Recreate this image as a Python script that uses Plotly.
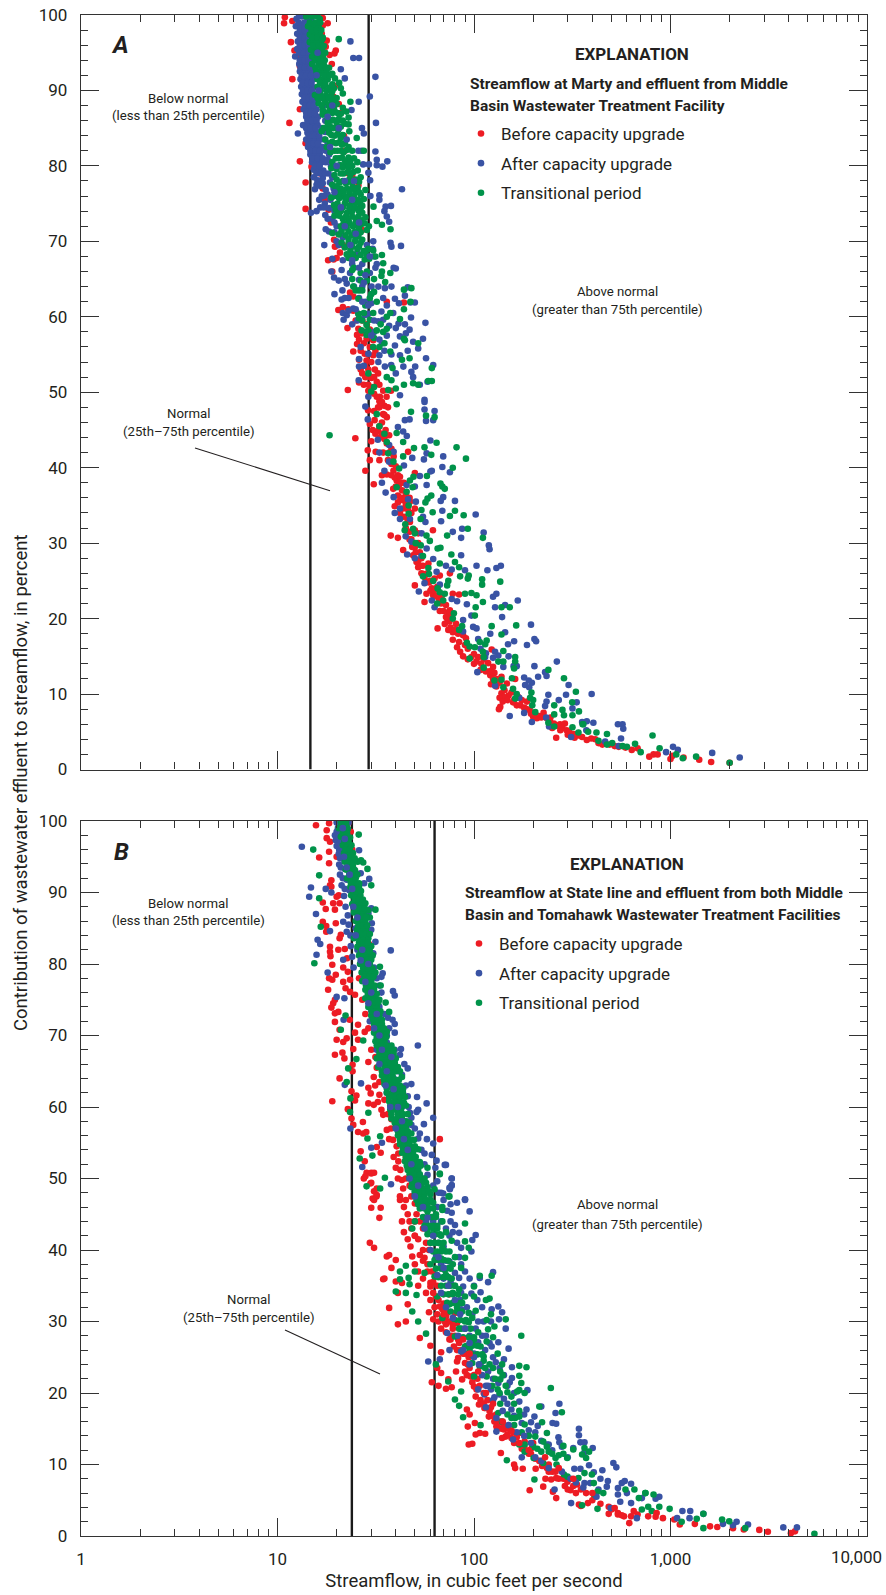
import plotly.graph_objects as go

# ---------- Panel A values (streamflow, percent) ----------
A_q25 = 14.7
A_q75 = 29.1
A_before = [
(10.9,99.7),(10.8,98.9),(11.9,99.2),(11.7,96.4),(12.2,95.3),(11.9,91.5),(11.5,85.7),(13,87.5),(13,80.6),(13.9,77.8),(13.9,74.3),(14.9,79.9),
(18,98.9),(17,98.6),(17.8,96.6),(19.8,95.3),(18.9,93.5),(17,99.6),(16.8,97.5),(17.6,95.8),(18.4,94.7),(19.5,94.9),(12.8,94.5),(13,93.2),(13.6,88.5),(13.9,83),(14.5,84.5),
(19.6,90.6),(19.2,89.2),(20.5,88.2),(21,87),(21.8,84),(22,82),(23,79),(24,78.8),(25.8,77.4),(16.5,79),(17,77),(17.5,75.5),(18.2,74.2),(18.7,72.5),
(19.4,70.2),(19.6,69.3),(18.1,67.5),(19.3,67.6),(19,66),(20,67.8),(20.8,68.5),(21.5,69.5),(25,70.8),(27,71.5),(20.4,60.9),(21.5,61.3),(22.7,58.5),(25.4,57.6),(25.4,56.4),(24.3,55.4),(26,54.3),(22.8,50.3),(26,51.3),
(23.4,63.2),(24.3,62.7),(22.9,61),(24.3,60.8),(25.8,58.4),(26.8,57.8),(28.4,57.1),(30.7,56.9),(29.5,56),(27.8,55.1),(30.7,54.9),(28.4,54.2),(29,53),(31.3,53),(30,51.9),(32,51.4),(30.7,50.7),(33.2,49.4),(35.9,49.4),(32,49.4),(37.8,50.2),(36,62),(26.5,53),(27.5,51),(29,50.2),(44,61.9),(29.5,52.1),(28.5,59),
(28.9,47.6),(31.2,46.3),(29.5,45.8),(36,46.7),(32.5,48),(34.5,47.1),(32.5,44.9),(36,43.2),(38,40.5),(38.9,39.6),(40.4,38.3),(42.8,38),(38.8,37.2),(41,36.3),(43.6,35.7),(47.2,35.5),(39.5,34.9),(43.6,34.6),(50,34.6),(50,39.3),(46.2,42.1),
(24.9,43.9),(28.8,42.3),(28,39.6),(30.9,37.8),(31.6,42.1),(34,39),(36,39.1),(33,48.8),(34,46),(35.5,45),(33,45.5),(37,44.3),(38,42.5),(39,41.5),(39.5,38.7),(41,39),(40,37.5),(43,37),(45,36.5),(41,35.4),(45,35.2),(42,34),(44,33.5),(46,33),
(37.7,31),(41,30.7),(43.6,29.1),(61.8,31.7),(47.2,32.8),(50,31.7),(52,31.3),(49,28.4),(52,27.7),(52,26.8),(54,26),(58.6,27.3),(67,25.7),(75.4,26),(50,24.4),(57.3,23.3),(62,23.1),(56,22.2),(68.4,22.9),(78,23.3),(84,23.2),(48,30.5),(50,29.5),(52,30),(47,31.5),(53,28.8),(55,27),(56,25.5),(59,24.8),(61,24),(63,25.3),(65,24.2),(66,22.7),(72,21.8),
(67,21),(75.4,21.1),(77,20.2),(75,19.6),(81,19.3),(65.3,18.7),(78,18.2),(83,18),(84,16.9),(91,17.4),(90,16.5),(85,15.6),(123,15.9),(97,14.9),(103,14.3),(109,14),(125,13.6),(121,12.5),(122,11.3),(138,12.3),(162,12),(147,11.4),(138,10.1),(136,8.3),(134,8),(150,9.8),(165,8.5),(175,9.2),(186,9),(200,7),(209,6.8),(226,7.5),(244,6.3),(274,6),(290,6.1),(296,5.2),(262,4.2),(340,4.5),(375,3.9),(414,4),
(74,20.8),(73,20),(76,18.8),(80,18.5),(88,17.8),(93,16),(100,15.3),(105,14.9),(112,14.6),(118,14.1),(127,12.8),(131,12),(135,11.5),(143,10.5),(142,9.6),(148,9.2),(155,10.2),(168,9.6),(172,8.5),(180,8.2),(192,7.9),(205,7.3),(215,7.1),(235,6.8),(255,6.1),(265,5.8),(282,5.5),(305,5),(322,4.7),(355,4.3),(395,4.1),(430,3.5),(450,3.3),
(545,3),(635,2.6),(680,2.8),(780,1.7),(820,2),(860,2),(1000,1.4),(1020,1.8),(1165,1.6),(1400,1.3),(1610,1),(2000,0.9),(490,3.3),(520,3.1),(590,2.9),
# second reading of the thick red ridge
(27,59.5),(28,58),(29.5,58.3),(27.5,56.5),(29,55),(31.5,55.5),(28,53.5),(30,54),(32.5,52.5),(31,52),(33,51),(34.5,50.2),(33,48),(35,48.2),(36.5,48),(34,44.5),(35,43.8),(37,42),(36.5,41),(38,39),(40,40.2),(42,38.8),(41.5,37.7),(44,38),(42.5,36),(44.5,35.9),(47,36),(46,34.5),(48,34),(45,32),(47,30.5),(48.5,29.5),(50.5,28.8),(51,27.5),(54,28),(53.5,27),(55.5,25.9),(58,26),(57.5,24.9),(60,25),(60,23.7),(63,23.8),(64,23),(68,22),(70,21),(72,20.2),(71,19.3),(74,18.5),(78,17.2),(82,16.2),(88,15),(93,14.6),(100,14),(108,13.2),(115,13),(120,13),(125,12),(130,11),(135,9.5),(140,9),(158,8.9),(160,9.2),(185,8),(195,7.4),(220,6.9),(245,6.9),(250,5.5),(275,5.2),(300,4.6),(325,4.2),
(25,59.5),(26,57),(26.5,55.5),(27,52.5),(28,52),(29,51),(30,50.5),(31,49.8),(34,48.7),(35,47),(31,47.5),(30.5,45),(33,44),(31.5,44.5),(30,43.5),(29.5,41),(33,41),(34.5,42),
]
A_after = [
(12.5,99.5),(13.3,99.8),(14.1,99.7),(14.9,99.5),(12.4,98.5),(13.1,98.6),(13.8,98.4),(14.5,98.6),(12.6,97.5),(13.3,97.4),(14,97.5),(14.7,97.6),(12.7,96.5),(13.4,96.5),(14.1,96.6),(14.8,96.4),(12.6,95.5),(13.3,95.4),(14,95.5),(14.8,95.5),(12.3,94.5),(13.3,94.5),(14,94.4),(14.8,94.6),(12.9,93.5),(13.5,93.6),(14.2,93.4),(15,93.5),(13,92.5),(13.7,92.4),(14.4,92.6),(15.2,92.5),(13.1,91.5),(13.8,91.6),(14.5,91.4),(15.2,91.5),(13.2,90.5),(13.9,90.5),(14.6,90.6),(15.4,90.4),(13.3,89.5),(14,89.4),(14.7,89.6),(15.5,89.5),(13.4,88.5),(14.1,88.6),(14.9,88.4),(15.6,88.5),(13.6,87.5),(14.3,87.4),(15,87.6),(15.8,87.5),(14,86.5),(14.7,86.6),(15.4,86.4),(16.1,86.5),(13.5,85.4),(14.3,85.5),(15.2,85.6),(16,85.4),(12.7,84.3),(14.2,84.4),(15,84.6),(15.9,84.5),(14,83.5),(14.8,83.4),(15.7,83.5),(16.5,83.5),(14.3,82.5),(15.1,82.6),(16,82.4),(16.9,82.5),(14.7,81.5),(15.5,81.5),(16.4,81.6),(15,80.5),(15.9,80.4),(16.8,80.5),(17.6,80.5),(15.3,79.5),(16.2,79.6),(17.1,79.4),(15.3,78.5),(16,78.1),(17,78.4),(16.6,77.3),(15.5,76.9),(17.6,76.8),(16.8,76),(18,76.2),(17.4,75),(16.5,74.5),(18.3,74.4),(14.8,73.8),(15.8,74),(17.5,73.5),(19,73),
(17.6,71.6),(18.3,71.3),(19.5,71.2),(20,72),(21,71),(23.5,96.5),(24.3,94.3),(26,94.3),(21,92.8),(22,91.6),(31.5,91.8),(29.5,89.2),(25.9,88.5),(23.8,87.4),(31.7,85.7),(26.9,85),(27.5,84.3),(31.5,81.9),(25.8,82),(26.8,82),(32,80.8),(36.2,80.6),(32,80.1),(34.2,79.9),(29.2,80.2),(27.3,80.2),(29,79.1),(29.6,78.1),(43,76.9),(29.7,76),(33,76.1),(33,75.5),(37.8,74.7),(35.5,74.6),(35,74),(36,73.3),(37,72.6),(42.5,69.4),(38,69.3),(37.6,69.8),(30.7,70),(39,66.5),(40,66.4),(17.3,69.5),(19,67.7),(18.8,66),(19.4,65.2),(21.2,66.2),(22.5,64.4),(21.4,63.5),(23.4,65.8),(26,64.9),(29.5,65.8),(30.1,64),(32.6,64),(35.2,63.8),(34.5,62.5),(39.6,62.4),(41.5,61.8),(44.5,62.8),(46,63.9),(50,61.9),(47.5,61.9),(21.2,62.3),(24.3,61.1),(21.5,60.5),(22.5,60.2),(25.8,60.4),(29,60.4),(27.8,60.2),(33.8,60.7),(38.8,60.5),(32.6,59.4),(21.7,59.6),(34.5,59.6),(41.3,59.1),(44.5,59),(47.8,59.9),(56.6,59.2),(42,57.4),(55,57.1),(49,56.7),(52,55.8),(46,55.5),(39.6,56.2),(33,54.9),(42,54.9),(57,54.5),(62,53.6),(50.2,53.4),(43.7,53.4),(35.2,53.4),(37.9,53.6),(32.6,54),(26,53.4),(26,54.4),(29,55.1),(40,52.5),(48,52.7),(49,52),(25.9,51.6),(58,51.4),(53,51),(42,49.6),(56,49),(29,49.4),
(21.5,67.5),(23,68),(24,67),(25.5,68.5),(27,67),(28.5,69.5),(22,65),(24.5,64),(27,64),(23,62.5),(26,62.5),(28,62),(31,68),(32,67),(30,61.8),(36,61.5),(38,64),(30.5,69),(31.5,66.5),
(20,70),(21.5,70.5),(19.5,63),(23,60.8),(20.5,64.8),(22,62.5),(24,59),(25.5,59.5),(28.5,58),(26.5,56),(27.5,53.5),(31,58),(34,56.5),(36,57.5),(37,58.8),(40,58.5),(35,55.5),(38,55),(45,57.8),(47,58.3),
(56,48.7),(56,47.7),(63,47.5),(28,48.1),(57,46.2),(62,46.3),(44.5,46.3),(47,46.4),(28.8,46.4),(41,45.4),(45.5,44.2),(43.6,44.8),(60,43.6),(32.4,43.7),(37,43),(39,42.1),(33,42),(48.5,41.3),(55.6,41.1),(57.4,41.9),(69.7,41.5),(44,40.3),(37,40.8),(35,39.6),(53,38.9),(69,40.1),(61,39.6),(60,39.5),(75.4,39.4),(34,38),(57.4,37.7),(45.4,37.7),(50,37.5),(35.5,36.7),(39,36.1),(46.2,35.8),(50.6,35.5),(69.7,36.1),(67.7,35.6),(80,35.6),(42,34.6),(39.5,34),(42,33.2),(47.2,33.2),(55,33.5),(56.6,32.8),(69,34.3),(102,33.8),(68,32.9),(87,31.9),(78,31.5),(112,31.4),(86,30.7),(54.1,31.3),(44.9,30.9),(48,30.2),(57.4,29.3),(119,29.7),(120,29.2),(45.7,28.5),(50,28),(54,28.3),(86,28.4),(62,27.9),(72,27),(103,27),(130,26.7),(137,27),(117,26.4),(77,26.5),(90,26.4),(64.5,26.2),(56,24.7),(67,24.5),(52.4,23.6),(125,22.9),(130,23.3),(77,22.6),(82,22.3),(61,22.4),(63,21.5),(167,22.4),(92,21.9),(128,21.5),(144,21.8),(97,20.4),(139,20.2),(88,19.8),(195,19.2),(99,18.9),(103,18.7),(85,18.5),(88,18.3),(121,18),(144,18.2),(203,17.3),(207,17),(105,17.3),(160,17),(149,16.6),(186,16.5),(133,15.1),(125,14.8),(114,14.9),(141,13.6),(264,14.3),(203,13.7),(165,13.7),(159,13.7),(230,12.9),(234,12.4),(212,12.3),(180,12.2),(104,12.9),(197,11.5),(191,10.9),(303,11.2),(128,11.1),(397,10),(239,9.9),(294,9.9),(270,9.2),(234,9),(333,8.9),(230,8.4),(317,8.1),(170,9.5),(152,7.1),(180,7.5),(197,6.3),(233,6.9),(241,5.7),(405,6.2),(375,6.4),(355,6.3),(373,5.2),(312,4.3),(540,6),(570,6),(575,5.4),(560,4.1),(465,3.7),(545,3.1),(950,2.3),(1030,3),(1090,2.6),(1630,2.2),(2250,1.6),(150,15),(128,15.6),(115,15.4),(108,16),(190,11.8),(182,11.2),
# second reading of the solid blue column
(12.9,100),(13.7,99),(14.5,99),(12.8,99),(13,98),(13.7,98),(14.4,98),(15,98),(13,97),(13.7,97),(14.4,97),(13,96),(13.7,96),(14.4,96),(15,96),(12.9,95),(13.6,95),(14.4,95),(13,94),(13.7,94),(14.4,94),(15,94),(13.1,93),(13.8,93),(14.6,93),(13.3,92),(14,92),(14.8,92),(13.4,91),(14.2,91),(14.9,91),(13.5,90),(14.2,90),(15,90),(13.7,89),(14.4,89),(15.1,89),(13.8,88),(14.6,88),(15.3,88),(14,87),(14.7,87),(15.5,87),(14.2,86),(15,86),(15.8,86),(14,85),(14.7,85),(15.6,85),(14.4,84),(15.4,84),(16.3,84),(14.4,83),(15.3,83),(16.1,83),(14.7,82),(15.6,82),(16.4,82),(15.1,81),(16,81),(17,81),(15.5,80),(16.4,80),(15.8,79),(16.7,79),(17.5,79),(16,78),(17,77.7),(15.8,77.5),(17.2,76),(16.3,75.5),(19.5,74),(18,73),(19.5,72.5),(20.5,69.5),
(16.6,89),(17.2,88),(17,87),(17.5,86),(16.8,85),(17.5,84.5),(17.3,83.5),(18,83),(17.6,82),(18.3,81.5),(18,80.8),(18.7,80),(18.2,79),(19,78.5),(18.5,77.8),(19.3,77),(18.6,75.5),(19.3,74.5),(17.2,74.5),
]
A_after_top = [
(16,95),(15.8,92),(16.2,90),(19,88),(18,86.5),(20.5,85),(22.5,83.5),(18.5,82.5),(20,80),(22,78),(24.5,78),(19.5,76.5),(21,74.5),(24,75.5),(22,72),(26,72.5),(25,71),(23.5,69.5),(24,67.5),(29.5,68),(26,66.5),(28,65.5),(27.5,64.5),(27,62),(25,61),(29,61.5),(31,59.5),(30,57.5),(33,57),
]
A_transition = [
(14,99.8),(15,99.8),(16,99.8),(16.4,99.5),(14.3,98.5),(15.2,98.6),(16.2,98.4),(14.6,97.4),(15.5,97.5),(16.4,97.6),(17,97),(14.6,96.4),(15.6,96.5),(16.6,96.4),(14.8,95.4),(15.8,95.5),(16.8,95.5),(17.5,95),(15,94.5),(16,94.4),(17,94.5),(15,93.5),(16.2,93.5),(17.2,93.4),(18.3,93),(15.8,92.5),(16.8,92.6),(17.8,92.4),(19,92.2),(16,91.5),(17,91.4),(18,91.5),(19.6,91.6),(20.6,91),(16,90.5),(17.2,90.6),(18.4,90.4),(19.4,90.3),(21,90.3),(21.5,89.6),(15.5,89.4),(16.5,89.5),(17.6,89.3),(18.8,89.5),(20,89),(16.2,88.3),(17.5,88.5),(18.8,88.4),(20,88.2),(21.5,87.7),(23.5,88.5),(17,87.4),(18.4,87.4),(19.5,87.3),(21,86.9),(22.4,87.2),(23,86.4),(18,86.3),(19.2,86.1),(20.5,86.2),(22,85.6),(23,85.5),(17.2,85),(18.5,85.2),(19.8,85.1),(21,85.2),(23.2,84.6),(18.8,84.1),(20.2,84.2),(21.5,84.1),(25.3,83.7),(19,83.2),(20.5,83.1),(22,83),(23,82.5),(19.5,82),(21,82),(22.5,82.1),(24,82),(27.5,82),(19.8,81),(21.3,81.1),(23,81.1),(24.5,81),(20.8,80.1),(22.2,80.2),(24,80),(21,79),(22.8,79.2),(24.3,79.2),(25.6,79.4),(20,78.2),(21.5,78),(23.2,78.2),(25,78.2),(26,77.9),(19.8,77),(21,77),(22.6,77),(24.2,77.1),(25.6,77.1),(28,76.8),(19.5,76),(21.5,76),(23,76),(24.5,76),(26.5,76.2),(27.5,75.6),(20.2,75),(22,75),(23.5,74.8),(25,75.1),(26.3,75),(21,74),(22.6,73.8),(24,74),(26,74),(27,73.8),(19.5,73.4),(21.5,73),(23,72.8),(25,73),(26.5,72.8),(28,73.2),(21,72),(22.5,71.8),(24.2,72),(26,71.8),(29.2,72),(19,71.1),(20.5,70.9),(22.2,70.8),(24,70.8),(25.8,70.7),(28.5,71.5),(23,69.8),(24.8,70),(26.5,69.8),(29,69),(23.5,68.8),(25.5,69),(27.5,68.7),(30.7,68.8),(23,67.8),(25,67.8),(27.8,67.6),(29.3,67.7),(31.5,68),
(20.5,96.8),(30.8,74.6),(32,72.7),(34,72.2),(37.6,71.6),(34,68.2),(34.5,67.1),(37.5,65.8),(34,66),(35.3,64.6),(44,63.6),(48,63.8),(47.5,62),(44,61),(37.5,60.5),(42,59.7),(24.5,66.5),(26.5,65.8),(28.5,66),(24,65),(26.5,64.8),(28.5,64.8),(31,65),(33.8,65.4),(25,63.5),(27,63.5),(30,63),(31,63.3),(25.8,62.4),(24.3,64),(25.8,60.4),(32,62),(30.7,60.5),(29.5,59.6),(28.4,58.9),(26.8,58.2),(28.4,57.6),(32,58.2),(36,58.4),(34.5,58),(30.7,56),(33,56),(37.5,55.4),(44,57.1),(44.5,56.9),(43,54.3),(47,54.5),(38.5,53.2),(61,53.2),(36,52),(38,51.6),(40,50.5),(44,51),(49,51.2),(52,51),(58.5,51.5),(61,51.5),(29,52.5),(36.6,50.3),(31,50.7),(30,50.1),(52,56.5),(36,60),(27.5,60.5),(26,59.8),
(40.4,48.4),(47.8,47.4),(32,47.1),(57,46.9),(63,46.7),(33,45.5),(35,44.5),(40.4,44.6),(43.6,43.4),(36,43.4),(64.5,43.3),(81.5,42.7),(56,42.7),(49.5,42.6),(36.6,41.9),(43.6,41.5),(60.6,41.7),(91,41.2),(38.9,40.8),(41.6,39.9),(78,40),(57.6,38.9),(49.2,38.8),(47.2,38.3),(67.5,37.9),(69,37.5),(71,37.2),(40.4,37.4),(45.4,36.8),(48.7,37.4),(60.6,36.3),(58,35.9),(56.6,35.4),(46.5,35),(54,34.4),(61.6,34.1),(80,34.3),(75.4,33.6),(88.6,33.7),(46.5,33.9),(53.5,33.2),(44.7,32.5),(44.4,31.7),(49,31.9),(50,31.3),(93,31.9),(73,31),(57.3,31),(111,30.7),(50.5,30),(59.6,30.3),(53.6,29.7),(65.3,29.3),(67.5,29.4),(55,28.3),(76.7,28.5),(67,27.3),(80,27.5),(84,26.8),(58.6,26.7),(55,25.6),(59,25.9),(94,25.7),(85,25.6),(93,25.3),(110,25.2),(110,24.5),(136,24.9),(62,25),(74,25),(73,24.4),(65.3,24),(67,23.5),(71,23.3),(90,23.3),(97,23.4),(103,23.1),(111,22.2),(69.7,22.4),(65,22),(152,21.5),(138,21.5),(102,21.5),(101,20.4),(79,20.7),(78,20),(87,19),(84,18.5),(123,19),(164,19.1),(138,17.9),(116,17.1),(107,16.9),(92,16.8),(114,16.6),(95,16.3),(101,16.2),(141,15.7),(111,15.6),(162,14.9),(162,14.3),(112,14.9),(95,14.7),(133,14.3),(141,14.3),(160,13.4),(112,13.5),(239,13.2),(287,12.1),(138,11.9),(127,11.8),(156,12.1),(141,10.9),(158,10.7),(165,10),(162,9.4),(196,10.2),(200,9.2),(193,9.5),(330,10.3),(316,8.9),(256,8.5),(198,8.5),(205,7.6),(342,7.7),(317,7.2),(282,7.9),(287,7.2),(256,7.3),(239,6.2),(256,5.7),(357,6),(317,5.6),(340,4.9),(381,5),
(360,6),(420,4.9),(475,4.7),(430,3.8),(475,3.3),(505,3.5),(570,3.1),(600,3),(660,3.4),(705,2.3),(810,4.5),(880,2.8),(1070,2),(1155,1.5),(1350,1.7),(2000,0.9),(18.4,44.3),
# second reading of the green band
(14.6,99),(15.6,99),(16.5,99),(14.9,98),(15.8,98),(16.7,98),(15,97),(16,97),(16.9,96.8),(15.2,96),(16.2,96),(17.2,95.9),(15.3,95),(16.3,95),(17.4,94),(15.5,94),(16.5,94),(15.6,93),(16.7,93),(17.7,93),(16.2,92),(17.3,92),(18.4,92),(16.5,91),(17.5,91),(19,90.8),(16.6,90),(17.8,90),(19,89.9),(16,89),(17,89),(18.2,89),(19.4,88.8),(16.8,88),(18.2,88),(19.4,87.8),(17.6,87),(19,87),(20.2,87),(18.7,86),(20,85.8),(21.5,86),(18,85),(19.2,85),(20.4,84.8),(19.5,84),(21,83.7),(19.8,83),(21.3,82.8),(20.2,82),(21.7,81.8),(20.5,81),(22,80.7),(23.4,80.4),(21.5,79.8),(23,79.8),(21.7,79),(23.5,78.8),(20.7,77.8),(22.3,77.7),(24,77.7),(20.3,76.7),(21.7,76.5),(23.3,76.6),(25,76.5),(20.6,75.7),(22.2,75.5),(24,75.5),(25.7,75.5),(21.5,74.5),(23.2,74.4),(24.8,74.4),(26.5,74.4),(20.6,73.4),(22.3,73.3),(24,73.3),(25.8,73.3),(21.7,72.4),(23.3,72.4),(25,72.4),(26.8,72.3),(21.2,71.4),(23,71.3),(24.8,71.3),(26.5,71.2),(23,70.3),(25,70.4),(27,70.2),(24,69.3),(26,69.3),(24.2,68.3),(26.5,68.2),(28.5,68.2),
(17,86.8),(18,85.7),(16.8,84.6),(18.3,84.4),(17.5,83.5),(18.5,83),(17.8,82.5),(18.6,81.8),(19,80.5),(18.8,79.7),(20,79.6),(19.5,78.8),(19,77.5),(20,77.3),(20.5,76.3),(18.8,75.8),(19.4,74.8),(19.8,74.2),(20.4,73.8),(22.8,75.6),(25,77),(26.5,78.5),(25.5,80.5),(26,76.5),(27,74.7),(27.8,72.4),(21.2,69.8),(22,69.2),(22.5,68.3),(24,66.2),(26,63.5),(28,61.5),(29.5,62.5),(27,59.5),(29,58.2),(31,57.2),(33.5,59),(35,56.5),
]

# ---------- Panel B values (streamflow, percent) ----------
B_q25 = 23.9
B_q75 = 63
B_before = [
(15.7,99.4),(18.3,99.7),(17.8,98.7),(17.8,97.6),(18.5,97.1),(18.3,95.7),(16.3,94.9),(18.3,94.1),(20,95),(18.8,91.7),(18.5,91),(18.8,90.8),(20,89.4),(20.5,89.6),(19.2,88.5),(20.7,88.5),(17,88.6),(17.6,87.7),(19.6,87.6),(17,85.9),(17.7,85.3),(17.7,84.5),(19.8,85.7),(20.7,83.6),(21,84.1),(18.5,82.4),(18.5,81.7),(18.6,81.1),(20.4,82),(22,82.1),(22.6,80.8),(19,79.9),(21.6,79.5),(22.8,78.9),(19.8,78.5),(18.3,78),(19,77.8),(21.6,77.5),(23.4,77.8),(22.2,76.6),(18.1,76.4),(23.4,76.1),(24.8,75.7),(19.6,75),(19.2,74.5),(18.8,73.9),(20.4,73.3),(19.6,73.1),(19.6,71.9),(23.3,72.2),(25.7,71.5),(20.7,70.8),(27.8,70.5),(24.8,70.4),(20,69.4),(22.5,69.6),(21.6,69.1),(25.7,69.4),(24.3,68.1),(19.6,67.3),(21.4,67.6),(21.9,66.8),(29,66.3),(24.1,65.9),(24.1,65),(20.7,64),(23.8,62.2),(25.2,61.6),(24.8,60.9),(19,60.8),(29,60.5),(30.9,60.3),(22.8,59.7),(23.8,58.4),(24.3,57.5),(27.2,57.9),(25.7,56.5),(27.3,56.3),(28.3,56.5),(67,55.5),(32,54.4),(26.5,53.8),(33.5,53.6),(27.8,52.4),(28.4,50.8),(30,50.7),(27.5,50),(29.7,49.3),(32,48.6),(31.9,47.5),(30.5,47.2),
(23,99.8),(23.6,98.5),(24,96),(24.5,93),(25,90.5),(25.5,86),(26.8,84.5),(29.2,82.8),(30,81),(28,80),(26,78),(27,75),(28,73),(29,71),
(30.9,64.2),(31.4,63),(29.8,61.9),(33,61.7),(32.4,60.7),(33.8,59.6),(34.5,58.9),(36,56.8),(37.8,57),(38.7,55.4),(40.4,54.5),(41.2,53.5),(41.2,52.4),(42.2,51.2),(43,49.8),(43.6,48.6),(42,47.5),(29,62.7),(30,68),(31.5,67),(32,65.5),(33,63.5),(35,61),(36.5,59),(38,58.3),(37,55.5),(39,53),(40,51.5),(41,50),(45,50),(47,49),(45,47),
(28,50.3),(30,50.8),(31,50.8),(30,49.4),(31,48.2),(32,47.7),(31,47),(30,45.9),(33.5,45.9),(33,44.5),(29.5,41),(31,40.3),(37,39.3),(36,39.1),(40,38.6),(38,37.5),(35,36),(34.5,35.9),(40,35.6),(43,35.4),(41,34),(37,31.9),(46,32.4),(41,29.6),(45,30),(59,31.3),(62,30.3),(53,27.7),(60,26.6),(68,25.7),(61,21.5),(66,21),(77,20.8),(72,20.6),(74,21.9),(68,22.8),(81,23),(90,23),(87,21.9),(65,23.5),(82,24.4),(82,26),(75,27.5),(72,29.6),(65,31),(69,31.7),(73,31.2),(80,31.2),(82,29.8),(75,33.8),
(42,47),(44,46),(46,45),(43,44),(47,44),(44,42.5),(48,43),(46,41.5),(50,42),(47.5,40.5),(48.5,39.1),(53,39.3),(56,38.9),(58,38),(60,35.4),(60,34.9),(64,33.5),(67,32.1),(72,30.7),(76,27.5),(79,26.5),(83,24.9),(90,24.2),(96,22.3),(100,20.9),(102,19.5),(114,17.9),(119,16.7),(127,16),(130,15.3),(142,14.9),(145,13.9),(155,13.7),(170,14.4),(181,13.2),(200,13),(197,12.3),(92,17.7),(106,18.4),(113,17.9),(95,17),(101,15.8),(93,15.3),(102,14.2),(107,14.4),(114,14.3),(94,12.8),(98,12.9),(137,11.6),(139,13.7),(160,10),(162,9.5),(177,9.4),(206,9.4),(231,8),(225,6.9),(192,6.4),(262,5.3),(252,6.2),(247,7.9),(240,9),(262,8.1),(299,7.6),(334,7.2),(372,6),(342,4.4),(380,4.6),(485,4.1),(540,3.2),(580,2.75),(630,2.75),(770,2.75),(915,2.5),(1045,2.3),(617,1.8),(540,3),(565,2.9),(485,3.1),(350,4.2),(1115,1.6),(1330,1.7),(1590,1.35),(1730,1.25),(2080,1.1),(2360,0.9),(2830,0.85),(3130,0.6),(4100,0.4),(4300,0.65),
(50,38),(52,37),(55,36),(52,35),(57,34),(60,33),(63,32),(66,30),(68,29),(72,28.5),(77,28),(84,27),(88,25.5),(93,24),(92,22.5),(98,21.5),(103,20.5),(108,19),(112,18.5),(120,17.5),(125,16.8),(132,15.6),(138,15),(148,14.2),(160,13),(175,12.2),(190,11.5),(205,10.8),(222,9.8),(235,9.5),(250,9),(270,8),(290,7),(310,6.4),(330,6),(400,5),(440,4.5),(500,3.7),(680,3),(840,2.7),
# second reading of the thick red ridge
(41,60),(43,55),(45,53),(46,51.5),(48,47.5),(50,46.5),(51,45),(53,44),(50,44),(55,43),(52,41.5),(57,41),(55,40),(59,40),(58,37),(61,37),(62,35.5),(65,35),(66,33),(70,32.5),(71,30),(75,30),(78,29),(80,28),(83,27.5),(86,26),(90,25.5),(94,25),(95,23.5),(100,22.5),(104,22),(107,21),(112,20),(117,19),(122,18),(130,17),(136,16),(142,15.5),(150,15),(158,14.5),(165,13.8),(180,12.5),(195,11.5),(215,10.5),(240,10),(260,9),(285,8),(320,7),(350,6.5),(410,5.5),
]
B_before_top = [
(50,42),(55,38.5),(62,34),(70,31),(78,29.5),(88,27.5),(95,25.5),(105,23),(115,20),(125,18.5),(140,16),(155,14.7),(170,13),(190,12),(230,11),(270,9.5),(320,8),(300,6.5),(400,6),(520,3.9),(650,3.5),(850,3.2),
]
B_after = [
(20,99.8),(21,99.9),(22,99.8),(23,99.8),(20,98.5),(21.2,98.4),(22.4,98.5),(19.8,97.3),(20.8,97),(22,97.2),(20.6,96),(21.5,95.8),(22.8,96),(26,95.9),(13.3,96.4),(20.8,94.8),(21.8,94.6),(23,94.8),(21,93.5),(22,93.3),(23.2,93.5),(24.5,93.2),(26.5,92.7),(21.5,92),(22.5,91.8),(23.6,92),(27.6,91.3),(29.3,91.9),(14.8,90.7),(17.6,90.5),(14.5,89.4),(18.8,90),(22,90.5),(23.2,90.3),(24.5,90.5),(25.5,90),(15.7,87),(16,83.4),(16.5,82.8),(18.5,84.6),(15.8,81.3),(18,78.8),(20,75.4),(21.9,75.2),(21.7,72.2),(21.6,85.9),(22.5,84.5),(21.6,80.6),(22,63.1),(37.7,81.9),(34.3,78.7),(38.7,76.2),(39.5,75.6),(30,87.8),(29,87.1),(30.2,85.7),(30,84.8),(31.5,83.1),(30.7,81.5),(33.8,78.2),(33.8,76),(36.5,72.5),(38.5,72.2),(39.5,71.6),(39.5,70.4),(51.8,68.6),(39.5,68),(42.5,68.1),(42,67.3),(44.2,66),(46,65.4),(43,64.5),(48,63.2),(26.6,63.3),(23.5,57),(51.3,61.4),(57.4,60.5),(52,59.6),(51,59.3),(47.2,59.2),(62,58.5),(55.6,57.6),(48,57.5),(53,56.3),(52,55.6),(57.6,55.5),(62,54.9),(30,54.3),(34,55),(61,53.3),(64.5,52.5),(71,51.9),(63.6,51.5),(77,50),(65,49.6),(77,49),(75.4,48.5),(69.7,47.9),(90,47.1),(37.8,49.2),(27,51.6),(55,50),(50,50.2),
(25,85),(25.5,82),(26.5,80),(27.5,78),(29,75),(31,76),(33,74),(29.5,72),(34,71),(36,70),(32,68),(37,66),(39,64),(36,62),(41,61),(43,60),(45,58),(43,56),(48,54),(46,52),(52,52),(56,52),(50,48),(55,47.5),(60,47),(65,46),(57,44),(62,44),(68,44),(72,43),(60,41),(66,41),(70,40.5),(75,42),(64,39),(68,38),(72,38.5),(70,36),(76,35.5),(80,36.8),
(72,51.9),(77,50),(77,49.1),(75,48.7),(68,48),(90,47),(95,45.4),(82,46.6),(76,46.4),(77,45.2),(84,42.4),(80,43.5),(102,42.1),(98,41.4),(86,40.3),(97,39.8),(75,38.4),(125,36.9),(118,35.5),(107,36.1),(84,36.1),(88,34.9),(97,33.9),(108,34.1),(86,34),(133,32.1),(123,31.7),(139,31.3),(86,31.7),(122,30),(134,30.3),(145,29),(102,29),(73,28.4),(133,27.1),(105,27.1),(150,26.2),(123,26.5),(114,26),(75,26),(86,25.8),(58.5,24.4),(67,24.7),(142,24.7),(129,24.3),(156,23.6),(156,22.1),(152,21.5),(133,21.4),(187,20.4),(113,19.8),(127,19.4),(142,19.2),(272,18.5),(220,18.1),(260,17.2),(185,17.7),(155,17.7),(203,16.7),(251,15.8),(262,15.7),(211,15.4),(130,14.6),(342,15),(342,14.1),(269,13.8),(272,13.1),(158,13.5),(348,13.1),(365,13.1),(402,12.3),(365,11.7),(320,12.3),(280,12.5),(512,10.2),(530,9.6),(385,9.9),(450,9.2),(407,8.9),(348,9.4),(324,9.4),(565,7.4),(585,7.7),(540,6.7),(630,7.3),(474,6.9),(540,5.8),(390,7.4),(365,7.4),(257,6.5),(715,5.3),(630,4.6),(555,4.8),(496,3.9),(312,4.6),(877,5.5),(840,5.2),(674,2.5),(1080,2.5),(1150,3.5),(1260,3.5),(1250,2.5),(1470,3.1),(1850,1.7),(2080,1.5),(2170,2),(2480,1.6),(3750,1.2),(4400,1.2),
(85,33),(92,32),(98,31),(105,30),(110,28),(95,28),(100,25.5),(108,24),(118,23),(125,22),(115,21),(122,20.5),(135,19.8),(148,18.5),(160,16.8),(175,15.8),(190,14.8),(235,12.8),(250,12),(300,11),(440,8),(480,7.7),(600,6),(430,6.5),
# second reading of blue along the green band
(20.3,99),(19.6,98),(20.4,97.8),(20,96.5),(20.5,95.4),(20.6,93.9),(20.8,92.5),(21.2,91),(21.8,89.5),(22.2,88),(22.8,86.8),(23,85.5),(23.5,84),(23.6,82.5),(24,81),(24.4,79.5),(27,83),(28.5,81),(31,79.5),(32,78),(33,77),(30,73.5),(35,73),(37,71),(36,69),(38,67.5),(39.5,66),(41,65),(45,63),(46,61.5),(43.5,62.5),(46.5,60),(48,58.5),(50,57),(54,54),(56,53.5),(58,50.5),(62,49),(66,48),(70,47),(73,45.5),(76,44),(78,42.5),(82,41),(84,39),(86,38),(90,37),(95,36),(100,35),(104,33),(110,32),(112,30),(115,28),(120,27),(125,25),(135,23.5),(142,22.5),(148,21),(160,20),(170,18.8),(180,17),(195,15.9),(205,14.5),(220,13.3),(240,12.8),
]
B_after_top = [
(21.5,99),(22,97.5),(21.8,95),(22.5,93.5),(23.3,92.5),(24,90.5),(24.3,88),(25.5,86.5),(25,84),(27,82),(26.5,80.5),(29,80),(28,77.5),(30,76),(29,74.5),(32,73),(31,71),(33,70),(34,68),(33,66),(36,65),(38,67),(35.5,63),(39,62.5),(37.5,60),(41,60),(43,58),(40,57),(44,55.5),(46,54),(48,52),(47,50),(52,49),(50,47.5),(55,46),(58,44.5),(56,43),(62,42),(60,40),(66,39),(70,37.5),(65,36.5),(74,35),(68,34),(80,33),(72,32),(85,31),(78,30.5),(90,29),(83,28),(95,27),(88,26),(100,25),(95,24),(106,24),(110,22.5),(118,21),(105,20.5),(125,19),(115,18),(140,17.5),(130,16.5),(150,15.5),(165,14.5),(180,14),(195,13),(205,11),(175,11),(220,10.5),(240,9.5),(280,9),(310,8),(330,7.5),(360,6.8),(420,5.5),
]
B_transition = [
(21,99.8),(22.3,99.8),(20.5,99),(21.6,98.8),(22.8,98.9),(21,97.8),(22.2,97.8),(23.4,97.7),(21.5,96.6),(22.6,96.7),(23.8,96.6),(21.8,95.5),(23,95.4),(24.2,95.5),(15.2,96),(22,94.3),(23.3,94.2),(24.5,94.3),(25.6,94.3),(27.3,94.2),(26.6,94.5),(22.3,93.2),(23.6,93.2),(24.8,93.1),(28.7,93.3),(16.3,92.4),(25.9,98.1),(22.6,92),(23.8,92),(25,92),(23.5,90.8),(24.7,90.8),(26,90.8),(30,91),(23.7,89.6),(25,89.6),(26.4,89.6),(24,88.4),(25.4,88.5),(26.7,88.4),(28,88.5),(24.5,87.2),(26,87.3),(27.4,87.2),(29,87.5),(31.5,87.6),(25,86),(26.4,86),(28,86),(29.5,86.5),(25.4,84.8),(26.8,84.8),(28.2,84.8),(24.5,83.6),(26,83.6),(27.5,83.6),(29,83.6),(25.5,82.4),(27,82.4),(28.5,82.4),(30,82.5),(26,81.2),(27.5,81.2),(29,81.2),(30.5,81.2),(26.3,80),(27.8,80),(29.5,80),(33.2,79.6),(26.8,78.8),(28.2,78.8),(30,78.8),(31.5,78.8),(27,77.6),(28.5,77.6),(30,77.6),(33.5,77),(28,76.4),(29.5,76.4),(31,76.4),(28,75.2),(29.5,75.2),(31.5,75.2),(33,75),(35.5,74.6),(29,74),(30.5,74),(32,74),(30,72.8),(31.5,72.8),(33,72.8),(37,73.3),(31,71.6),(32.5,71.6),(34,71.6),(31,70.4),(32.8,70.4),(34.5,70.4),(36,70.5),(31.5,69.2),(33.2,69.2),(35,69.2),(33,68),(35,68),(37,68),(39,68),(32,66.8),(34,66.8),(36,66.8),(38,66.8),(40,66.8),(32.5,65.6),(35,65.6),(37,65.6),(39,65.6),(41,65.6),(34,64.4),(36,64.4),(38.5,64.4),(43,64.2),(35,63.2),(37.5,63.2),(40,63.2),(42,63),(36,62),(38.5,62),(41,62),(43.5,62),(37,60.8),(39.5,60.8),(42,60.8),(44,60.6),(37.5,59.6),(40,59.6),(42.5,59.6),(38,58.4),(40.5,58.4),(43,58.4),(45,58),(40,57.2),(42.5,57.2),(45,57.2),(41,56),(43.5,56),(46,56),(48,56.3),(42,54.8),(44.5,54.8),(47,54.8),(50,54.5),(52,54.1),(43,53.6),(46,53.6),(49,53.6),(44.5,52.4),(47.5,52.4),(50.5,52.4),(53,52.3),(46,51.2),(49,51.2),(52,51.2),(58,51.5),(47,50),(50,50),(53,50),(56,50),(48,48.8),(51,48.8),(54,48.8),(58,48.8),(50,47.6),(53,47.6),(56,47.6),(60,47.8),(52,46.4),(55,46.4),(58,46.4),(62,46.6),
(21,70.8),(22.2,72.8),(27.3,69.3),(25.2,66.7),(22.9,65.4),(22.5,63.5),(23.5,61.2),(23.4,59.3),(29,59.2),(28.7,55.6),(33.3,55.9),(30.4,53.2),(26.2,52.8),(35.2,50.1),(28.4,48.9),(33.3,48.6),(67,50.6),(74.3,47.5),(16.3,89.2),(16.6,85.2),(15.4,80.1),
(67,50.7),(63,48.5),(56,48.5),(53,48.5),(75,47.5),(69,45.6),(69,46),(90,43.7),(69,44),(65,43),(58,42.8),(48.5,43),(50,44),(58,45.4),(90,41.2),(94,40.3),(77,41.3),(63,41),(69,40.3),(75,39.8),(90,38.9),(80,39),(86,37.5),(75,37.5),(71,37.2),(60,38),(45,37.8),(42,37),(50,37),(56,36.8),(63,36.3),(46.5,36.1),(42,35.9),(47,35.2),(107,36.4),(123,36.4),(77,36),(100,34.9),(100,33.5),(40,34.2),(45,34),(51,33.7),(65,33.5),(75,32.4),(86,32.6),(94,31.2),(115,33),(120,33.2),(122,31),(48.5,31.4),(52,30),(102,31.5),(94,29.9),(116,30.2),(145,30.3),(69,30.5),(57,28.3),(127,29.3),(118,28.9),(86,29),(80,27.9),(174,28),(125,27.8),(116,27.2),(90,26.5),(98,26.8),(95,26),(132,25.5),(112,25.1),(98,24.2),(107,23.7),(114,23.5),(139,24),(170,23.8),(185,23.6),(64,24),(136,23),(100,22.3),(170,22.4),(116,22.3),(136,21.9),(174,21.4),(246,20.7),(132,20.5),(148,20.1),(166,20.2),(170,20.4),(181,20),(74,21.6),(86,20.2),(80,19.1),(84,18.2),(136,18.5),(215,18.1),(280,17.3),(88,16.6),(108,15.5),(133,17.2),(139,16),(162,16.5),(170,16.7),(181,15.6),(222,15.9),(235,14.4),(205,13.9),(225,13.2),(285,12.6),(235,12.5),(181,12.8),(170,12.8),(320,12.1),(365,12.3),(385,11.8),(355,11.4),(220,11.8),(240,11.8),(285,11.5),(260,10.9),(181,11.8),(201,10.9),(225,10.2),(298,10.9),(147,10.6),(263,10),(372,10.9),(287,8.6),(299,8.3),(340,8.1),(365,8.8),(398,8.6),(203,7.9),(407,7.4),(425,6.2),(455,6),(590,6.5),(655,6.5),(690,5.3),(745,6),(715,3.7),(770,4.1),(803,3.5),(877,4.1),(425,3.8),(410,5.8),(355,4.3),(820,5.8),(745,6),(990,3.8),(1140,2),(1360,2.4),(1470,1.1),(1470,3.1),(1830,2.3),(1990,2.05),(2400,1.1),(5400,0.3),
(64,45),(68,42),(72,42.5),(62,43),(70,40),(74,38.5),(78,38),(68,38.8),(72,36.5),(80,35),(84,34.5),(78,34),(90,33.5),(82,32),(90,30),(98,30.5),(105,28.5),(100,27.5),(108,26.5),(112,24.5),(120,24),(125,23.5),(128,22),(140,22.5),(124,21),(145,21),(135,20),(155,19.5),(160,18.5),(170,17.5),(148,17),(155,16.5),(160,15.5),(175,14.5),(190,14),(200,12.5),(210,12.2),(250,11.5),(270,11.3),
# second reading of the solid green band
(21.3,99.2),(22.5,99.2),(21.5,98.3),(22.6,98.3),(21.9,97.2),(23,97.1),(22.2,96),(23.3,96),(22.4,94.9),(23.6,94.9),(24.7,94.8),(23,93.8),(24.2,93.7),(23.2,92.6),(24.4,92.6),(25.5,92.5),(23.6,91.4),(24.8,91.4),(26,91.3),(24.2,90.2),(25.4,90.2),(26.6,90.2),(24.7,89),(26,89),(27.2,89),(25,87.8),(26.4,87.8),(27.8,87.8),(25.6,86.6),(27,86.6),(28.4,86.6),(25.8,85.4),(27.2,85.4),(28.6,85.4),(25.2,84.2),(26.6,84.2),(28,84.2),(29.5,84.2),(26,83),(27.4,83),(28.8,83),(26.6,81.8),(28,81.8),(29.5,81.8),(27,80.6),(28.6,80.6),(30,80.6),(27.3,79.4),(28.8,79.4),(30.4,79.4),(27.8,78.2),(29.3,78.2),(30.8,78.2),(28.2,77),(29.7,77),(31.2,77),(28.8,75.8),(30.3,75.8),(32,75.8),(29.4,74.6),(31,74.6),(32.6,74.6),(30.2,73.4),(31.8,73.4),(33.4,73.4),(30.7,72.2),(32.3,72.2),(34,72.2),(31.5,71),(33,71),(34.8,71),(32,69.8),(34,69.8),(35.8,69.8),(32,68.6),(34,68.6),(36,68.6),(38,68.6),(33,67.4),(35,67.4),(37,67.4),(39,67.4),(33.5,66.2),(35.5,66.2),(37.5,66.2),(39.5,66.2),(34,65),(36,65),(38,65),(40,65),(42,65),(34.8,63.8),(37,63.8),(39.5,63.8),(41.5,63.8),(36,62.6),(38.5,62.6),(41,62.6),(43.5,62.6),(37,61.4),(39.5,61.4),(42,61.4),(44.5,61.4),(37.5,60.2),(40,60.2),(42.5,60.2),(45,60.2),(38,59),(41,59),(43.5,59),(46,59),(39.5,57.8),(42,57.8),(44.5,57.8),(47,57.8),(41,56.6),(43.5,56.6),(46,56.6),(42,55.4),(44.5,55.4),(47,55.4),(49.5,55.4),(43.5,54.2),(46,54.2),(48.5,54.2),(45,53),(48,53),(50.5,53),(45.5,51.8),(48,51.8),(51,51.8),(53.5,51.8),(47,50.6),(50,50.6),(53,50.6),(48.5,49.4),(51.5,49.4),(54.5,49.4),(57,49.4),(50,48.2),(53,48.2),(56,48.2),(59,48.2),(51,47),(54,47),(57,47),(60,47),(53,45.8),(56,45.8),(59,45.8),(62,45.8),(55,44.6),(58,44.6),(61,44.6),(64,44.6),(56,43.4),(59,43.4),(62,43.4),(65,43.4),(58,42.2),(61,42.2),(64,42.2),(67,42.2),(60,41),(63,41),(66,41),(70,41),(62,39.8),(65,39.8),(68,39.8),(72,39.8),(63,38.6),(66,38.6),(70,38.6),(64,37.4),(68,37.4),(72,37.4),(76,37.4),(66,36.2),(70,36.2),(74,36.2),(68,35),(72,35),(76,35),(80,35),(70,33.8),(74,33.8),(78,33.8),(83,33.8),(73,32.6),(78,32.6),(82,32.6),(87,32.6),(76,31.4),(82,31.4),(87,31.4),(80,30.2),(85,30.2),(91,30.2),(84,29),(90,29),(96,29),(88,27.8),(94,27.8),(100,27.8),(92,26.6),(98,26.6),(104,26.6),(97,25.4),(104,25.4),(110,25.4),
]

# ---------- Shared text and axis values ----------
x_ticks = [1, 10, 100, 1000, 10000]
x_tick_text = ["1", "10", "100", "1,000", ""]  # the last label is an annotation, so it stays inside the page
x_last_label = "10,000"
x_minor = [m * d for d in (1, 10, 100, 1000) for m in range(2, 10)]
series_names = ["Before capacity upgrade", "After capacity upgrade", "Transitional period"]
series_colors = ["#ED1C24", "#3953A4", "#00934A"]

W, H = 886, 1595
LEFT, RIGHT, TOP, BOTTOM = 81, 867, 15, 1536
A_top, A_bot, B_top, B_bot = 15, 769.5, 821, 1536
INK = "#231F20"
FONT = "Roboto, sans-serif"

def px(x):
    return (x - LEFT) / (RIGHT - LEFT)

def py(y):
    return 1 - (y - TOP) / (BOTTOM - TOP)

fig = go.Figure()

def add_panel(q25, q75, series, top_series, xa, ya, legend):
    for q in (q25, q75):
        fig.add_trace(go.Scatter(x=[q, q], y=[0, 100], mode="lines", xaxis=xa, yaxis=ya,
                                 line=dict(color="#1a1a1a", width=2.4), showlegend=False, hoverinfo="skip"))
    for name, color, pts in zip(series_names, series_colors, series):
        fig.add_trace(go.Scatter(x=[p[0] for p in pts], y=[p[1] for p in pts], mode="markers",
                                 name=name, xaxis=xa, yaxis=ya, legend=legend, legendgroup=legend + name,
                                 marker=dict(color=color, size=6.6, line=dict(width=0))))
    # points of the same series that the reference prints over the green ones
    for name, color, pts in top_series:
        fig.add_trace(go.Scatter(x=[p[0] for p in pts], y=[p[1] for p in pts], mode="markers",
                                 name=name, xaxis=xa, yaxis=ya, legend=legend, legendgroup=legend + name, showlegend=False,
                                 marker=dict(color=color, size=6.6, line=dict(width=0))))

add_panel(A_q25, A_q75, [A_before, A_after, A_transition],
          [(series_names[1], series_colors[1], A_after_top)], "x", "y", "legend")
add_panel(B_q25, B_q75, [B_before, B_after, B_transition],
          [(series_names[1], series_colors[1], B_after_top), (series_names[0], series_colors[0], B_before_top)], "x2", "y2", "legend2")

def xaxis(domain_anchor, labels):
    return dict(type="log", range=[0, 4], domain=[0, 1], anchor=domain_anchor,
                tickvals=x_ticks, ticktext=x_tick_text, showticklabels=labels,
                ticks="inside", ticklen=18, tickwidth=1.1, tickcolor="#333",
                minor=dict(tickvals=x_minor, ticks="inside", ticklen=7, tickwidth=1.1, tickcolor="#333", showgrid=False),
                showline=True, linecolor="#333", linewidth=1.4, mirror="allticks",
                showgrid=False, zeroline=False, tickfont=dict(family=FONT, size=17, color=INK),
                ticklabelstandoff=7, ticklabeloverflow="allow")

def yaxis(top, bot, anchor):
    return dict(range=[0, 100], domain=[py(bot), py(top)], anchor=anchor, tickmode="array",
                tickvals=list(range(0, 101, 10)),
                ticks="inside", ticklen=18, tickwidth=1.1, tickcolor="#333",
                minor=dict(tickvals=[v for v in range(0, 101, 2) if v % 10], ticks="inside", ticklen=7, tickwidth=1.1, tickcolor="#333", showgrid=False),
                showline=True, linecolor="#333", linewidth=1.4, mirror="allticks",
                showgrid=False, zeroline=False, tickfont=dict(family=FONT, size=17, color=INK),
                ticklabelstandoff=9, ticklabeloverflow="allow")

def note(text, x, y, size=13.2, bold=False, italic=False, anchor="center"):
    return dict(text=text, x=px(x), y=py(y), xref="paper", yref="paper", showarrow=False, xanchor=anchor, yanchor="middle",
                align="center" if anchor == "center" else "left",
                font=dict(family=FONT, size=size, color=INK, weight=700 if bold else 400, style="italic" if italic else "normal"))

annotations = [
    note("A", 120, 45, size=24, bold=True, italic=True),
    note("B", 121, 852, size=24, bold=True, italic=True),
    note("Below normal", 188, 99), note("(less than 25th percentile)", 188, 116),
    note("Above normal", 617, 292), note("(greater than 75th percentile)", 617, 309),
    note("Normal", 188, 413), note("(25th–75th percentile)", 188, 431),
    note("Below normal", 188, 903), note("(less than 25th percentile)", 188, 920),
    note("Above normal", 617, 1204), note("(greater than 75th percentile)", 617, 1224),
    note("Normal", 248, 1299), note("(25th–75th percentile)", 248, 1317),
    note("EXPLANATION", 632, 54, size=17, bold=True),
    note("Streamflow at Marty and effluent from Middle", 468, 84, size=15.5, bold=True, anchor="left"),
    note("Basin Wastewater Treatment Facility", 468, 106, size=15.5, bold=True, anchor="left"),
    note("EXPLANATION", 627, 864, size=17, bold=True),
    note("Streamflow at State line and effluent from both Middle", 463, 893, size=15.5, bold=True, anchor="left"),
    note("Basin and Tomahawk Wastewater Treatment Facilities", 463, 915, size=15.5, bold=True, anchor="left"),
    note(x_last_label, 884, 1557, size=17, anchor="right"),
    dict(text="Contribution of wastewater effluent to streamflow, in percent", x=px(21), y=py(783), xref="paper", yref="paper",
         showarrow=False, textangle=-90, xanchor="center", yanchor="middle", font=dict(family=FONT, size=18.5, color=INK)),
]

def leader(x0, y0, x1, y1):
    return dict(type="line", xref="paper", yref="paper", x0=px(x0), y0=py(y0), x1=px(x1), y1=py(y1),
                line=dict(color=INK, width=1.1))

shapes = [leader(195, 448, 330, 490.7), leader(285, 1330, 380, 1374)]

def legend_box(x, y):
    return dict(x=px(x), y=py(y), xanchor="left", yanchor="top", xref="paper", yref="paper",
                bgcolor="rgba(0,0,0,0)", borderwidth=0, tracegroupgap=4.5,
                font=dict(family=FONT, size=17, color=INK), itemclick=False, itemdoubleclick=False)

fig.update_layout(
    width=W, height=H, autosize=False, paper_bgcolor="white", plot_bgcolor="white",
    margin=dict(l=LEFT, r=W - RIGHT, t=TOP, b=H - BOTTOM, autoexpand=False),
    xaxis=xaxis("y", False), yaxis=yaxis(A_top, A_bot, "x"),
    xaxis2=xaxis("y2", True), yaxis2=yaxis(B_top, B_bot, "x2"),
    legend=legend_box(461, 116), legend2=legend_box(459, 926),
    annotations=annotations, shapes=shapes, showlegend=True,
)
fig.update_xaxes(title=None)
fig.layout.xaxis2.title = dict(text="Streamflow, in cubic feet per second", font=dict(family=FONT, size=18.5, color=INK), standoff=6)

fig.write_html("out.html", config=dict(displayModeBar=False),
               post_script="document.body.style.margin='0';")
